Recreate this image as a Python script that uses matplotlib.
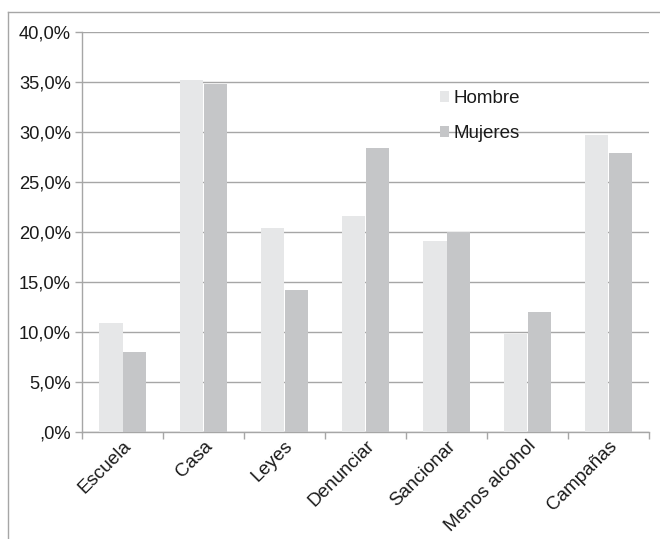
import numpy as np
import matplotlib.pyplot as plt
from matplotlib.lines import Line2D
from matplotlib.ticker import FuncFormatter, FixedLocator

plt.rcParams['font.family'] = ['Liberation Sans', 'DejaVu Sans']

# data (percent)
categorias = ["Escuela", "Casa", "Leyes", "Denunciar", "Sancionar", "Menos alcohol", "Campañas"]
hombre = [10.9, 35.2, 20.4, 21.6, 19.1, 9.8, 29.7]
mujeres = [8.0, 34.8, 14.2, 28.4, 20.0, 12.0, 27.9]
series_names = ["Hombre", "Mujeres"]

color_h = "#e6e7e8"
color_m = "#c5c6c8"
grid_color = "#a6a6a6"

W, H = 660, 539
fig = plt.figure(figsize=(W / 100, H / 100), dpi=100)

# plot area in pixels: x 82..649, y 32..432
ax = fig.add_axes([82 / W, (H - 432) / H, (649 - 82) / W, 400 / H])

x = np.arange(len(categorias))
bw = 0.284
ax.bar(x - bw / 2, hombre, bw, color=color_h, label=series_names[0], zorder=3)
ax.bar(x + bw / 2, mujeres, bw, color=color_m, label=series_names[1], zorder=3)

ax.set_xlim(-0.5, len(categorias) - 0.5)
ax.set_ylim(0, 40)
ax.set_yticks(np.arange(0, 41, 5))

def pct(v, pos):
    s = "{:.1f}".format(v).replace(".", ",")
    if s.startswith("0,"):
        s = s[1:]
    return s + "%"

ax.yaxis.set_major_formatter(FuncFormatter(pct))
ax.grid(axis="y", color=grid_color, linewidth=1.0, zorder=0)

ax.set_xticks(x)
ax.set_xticklabels(categorias, rotation=45, ha="right", rotation_mode="anchor")
ax.xaxis.set_minor_locator(FixedLocator(np.arange(-0.5, len(categorias), 1)))
ax.tick_params(axis="x", which="major", length=0, pad=4, labelsize=13.6, colors="#1a1a1a")
ax.tick_params(axis="x", which="minor", length=5, color=grid_color, width=1)
ax.tick_params(axis="y", length=5, color=grid_color, width=1, labelsize=13.2, pad=3,
               labelcolor="#1a1a1a")

for side in ["top", "right"]:
    ax.spines[side].set_visible(False)
for side in ["left", "bottom"]:
    ax.spines[side].set_color(grid_color)
    ax.spines[side].set_linewidth(1.0)

leg = ax.legend(loc="upper left", bbox_to_anchor=((440 - 82) / (649 - 82), 1 - (90 - 32) / 400),
                frameon=False, fontsize=13.5, handlelength=0.5, handleheight=0.5,
                handletextpad=0.2, labelspacing=0.95, borderaxespad=0, borderpad=0)
for t in leg.get_texts():
    t.set_color("#1a1a1a")

# outer chart frame
fig.add_artist(Line2D([7.5 / W, 7.5 / W], [0, 1 - 12 / H], transform=fig.transFigure,
                      color=grid_color, linewidth=1.0))
fig.add_artist(Line2D([7.5 / W, 1], [1 - 12 / H, 1 - 12 / H], transform=fig.transFigure,
                      color=grid_color, linewidth=1.0))

fig.savefig("out.png", dpi=100)
